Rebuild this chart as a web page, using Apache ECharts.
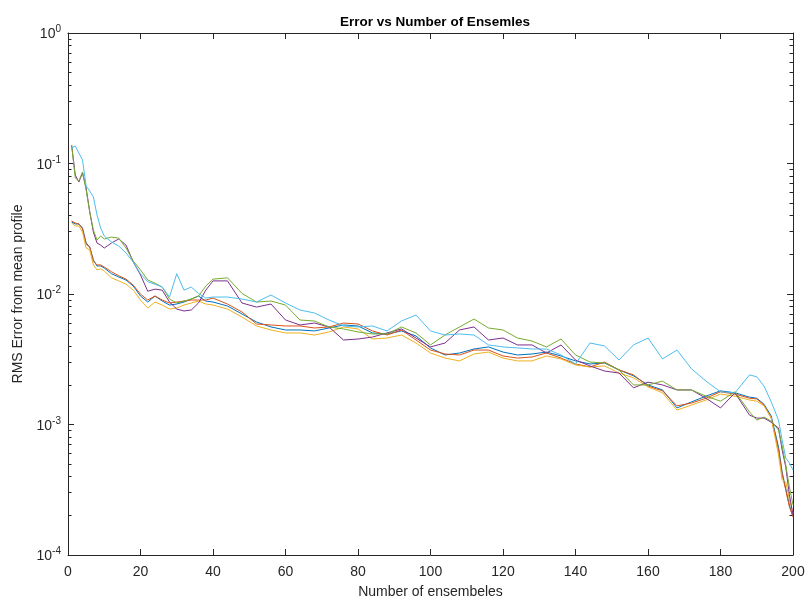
<!DOCTYPE html>
<html>
<head>
<meta charset="utf-8">
<script src="https://cdn.jsdelivr.net/npm/echarts@6/dist/echarts.min.js"></script>
<style>
html,body{margin:0;padding:0;background:#fff;}
#chart{width:809px;height:608px;}
</style>
</head>
<body>
<div id="chart"></div>
<script>
const xValues = [1,2,3,4,5,6,7,8,9,10,12,14,16,18,20,22,24,26,28,30,32,34,36,38,40,44,48,52,56,60,64,68,72,76,80,84,88,92,96,100,104,108,112,116,120,124,128,132,136,140,144,148,152,156,160,164,168,172,176,180,184,188,190,192,194,196,197,198,199,200];

const blueVals = [0.0356,0.0344,0.0344,0.0321,0.0246,0.0229,0.0182,0.0164,0.0164,0.0158,
0.0143,0.0135,0.0128,0.0115,0.00965,0.00868,0.00965,0.00883,0.00823,0.00838,0.00868,0.00915,0.00965,0.00883,0.00868,
0.00809,0.00703,0.00610,0.00559,0.00530,0.00530,0.00521,0.00549,0.00579,0.00569,0.00503,0.00494,0.00521,0.00477,0.00386,0.00341,0.00353,0.00379,0.00393,0.00359,0.00341,0.00347,0.00359,0.00335,0.00307,0.00291,0.00296,0.00262,0.00236,0.00201,0.00184,0.00134,0.00149,0.00165,0.00181,0.00175,0.00162,
0.00159,0.00143,0.00116,0.000673,0.000433,0.000321,0.000242,0.000196];

const orangeVals = [0.0363,0.0350,0.0344,0.0315,0.0241,0.0229,0.0179,0.0167,0.0167,0.0161,
0.0148,0.0138,0.0130,0.0117,0.00997,0.00899,0.00965,0.00899,0.00853,0.00868,0.00883,0.00899,0.00899,0.00899,0.00931,
0.00838,0.00728,0.00589,0.00579,0.00569,0.00569,0.00549,0.00559,0.00599,0.00589,0.00521,0.00485,0.00530,0.00444,0.00372,0.00347,0.00341,0.00372,0.00372,0.00335,0.00323,0.00329,0.00353,0.00323,0.00291,0.00276,0.00301,0.00262,0.00240,0.00197,0.00181,0.00139,0.00146,0.00159,0.00178,0.00171,0.00159,
0.00157,0.00141,0.00112,0.000638,0.000417,0.000315,0.000234,0.000196];

const yellowVals = [0.0350,0.0332,0.0332,0.0298,0.0225,0.0217,0.0167,0.0153,0.0156,0.0150,
0.0133,0.0126,0.0119,0.0107,0.00899,0.00781,0.00868,0.00823,0.00767,0.00781,0.00823,0.00853,0.00883,0.00838,0.00823,
0.00767,0.00666,0.00569,0.00530,0.00503,0.00503,0.00485,0.00512,0.00559,0.00540,0.00452,0.00460,0.00485,0.00421,0.00353,0.00323,0.00307,0.00347,0.00359,0.00323,0.00307,0.00307,0.00335,0.00318,0.00286,0.00276,0.00281,0.00248,0.00228,0.00194,0.00175,0.00129,0.00141,0.00154,0.00171,0.00165,0.00154,
0.00151,0.00139,0.00112,0.000584,0.000376,0.000363,0.000264,0.000210];

const purpleVals = [0.1386,0.0816,0.0721,0.0846,0.0649,0.0425,0.0298,0.0246,0.0237,0.0225,
0.0246,0.0264,0.0237,0.0176,0.0140,0.0105,0.0109,0.0107,0.00868,0.00767,0.00741,0.00754,0.00853,0.0107,0.0126,
0.0126,0.00853,0.00794,0.00838,0.00632,0.00579,0.00599,0.00559,0.00444,0.00452,0.00468,0.00503,0.00540,0.00460,0.00393,0.00421,0.00530,0.00559,0.00444,0.00460,0.00407,0.00407,0.00353,0.00407,0.00312,0.00281,0.00257,0.00248,0.00191,0.00211,0.00201,0.00184,0.00184,0.00159,0.00134,0.00175,0.00118,
0.00112,0.00112,0.00104,0.000940,0.000638,0.000473,0.000289,0.000203];

const greenVals = [0.1386,0.0774,0.0734,0.0861,0.0626,0.0425,0.0309,0.0259,0.0278,0.0264,
0.0273,0.0268,0.0225,0.0179,0.0153,0.0128,0.0121,0.0113,0.00915,0.00853,0.00883,0.00915,0.00965,0.0115,0.0130,
0.0133,0.0101,0.00868,0.00883,0.00823,0.00632,0.00621,0.00559,0.00540,0.00512,0.00494,0.00494,0.00559,0.00503,0.00407,0.00485,0.00559,0.00643,0.00549,0.00530,0.00460,0.00436,0.00393,0.00452,0.00341,0.00301,0.00296,0.00262,0.00201,0.00201,0.00215,0.00184,0.00184,0.00165,0.00151,0.00178,0.00125,
0.00108,0.00114,0.00106,0.000908,0.000685,0.000490,0.000332,0.000242];

const lightBlueVals = [0.1314,0.1362,0.1204,0.1064,0.0672,0.0615,0.0554,0.0403,0.0321,0.0278,
0.0250,0.0233,0.0206,0.0176,0.0143,0.0124,0.0119,0.0113,0.00948,0.0143,0.0107,0.0113,0.0101,0.00931,0.00948,
0.00948,0.00915,0.00868,0.00982,0.00853,0.00754,0.00715,0.00632,0.00569,0.00559,0.00569,0.00521,0.00621,0.00690,0.00521,0.00485,0.00494,0.00485,0.00407,0.00393,0.00386,0.00379,0.00379,0.00341,0.00291,0.00421,0.00400,0.00312,0.00407,0.00460,0.00318,0.00372,0.00267,0.00215,0.00178,0.00175,0.00240,
0.00232,0.00197,0.00149,0.00108,0.000761,0.000554,0.000507,0.000448];

const seriesNames = ['s1','s2','s3','s4','s5','s6'];
const seriesValues = [blueVals, orangeVals, yellowVals, purpleVals, greenVals, lightBlueVals];
const seriesColors = ['#0072BD','#D95319','#EDB120','#7E2F8E','#77AC30','#4DBEEE'];

const yDecadeExponents = [-4,-3,-2,-1,0];
const yMinorMantissas = [2,3,4,5,6,7,8,9];

// minor tick positions on the log axis, expressed as decade exponents (log10 of the value)
const yMinorExps = [];
yDecadeExponents.slice(0, -1).forEach(function (e) {
  yMinorMantissas.forEach(function (m) { yMinorExps.push(Math.log10(m * Math.pow(10, e))); });
});

const axisColor = '#262626';
const fontFam = '"Liberation Sans", Arial, Helvetica, sans-serif';

const chart = echarts.init(document.getElementById('chart'), null, {renderer: 'canvas'});

const mainY = {
  type: 'log', logBase: 10, min: 1e-4, max: 1, interval: 1, position: 'left',
  axisLine: {show: true, lineStyle: {color: axisColor, width: 1}},
  axisTick: {show: true, inside: true, length: 6, lineStyle: {color: axisColor, width: 1}},
  splitLine: {show: false},
  axisLabel: {
    show: true, margin: 7,
    formatter: function (v) {
      const e = Math.round(Math.log10(v));
      return '{b|10}{s|' + e + '}';
    },
    rich: {
      b: {fontSize: 14, color: axisColor, fontFamily: fontFam, lineHeight: 17, verticalAlign: 'bottom'},
      s: {fontSize: 10, color: axisColor, fontFamily: fontFam, lineHeight: 17, verticalAlign: 'top'}
    }
  },
  name: 'RMS Error from mean profile', nameLocation: 'middle', nameGap: 38,
  nameTextStyle: {fontSize: 14, color: axisColor, fontFamily: fontFam}
};

function expAxis(pos, ticks, len, showLine) {
  const ax = {
    type: 'value', min: -4, max: 0, interval: 1, position: pos,
    axisLine: {show: showLine, onZero: false, lineStyle: {color: axisColor, width: 1}},
    axisTick: {show: true, inside: true, length: len, lineStyle: {color: axisColor, width: 1}},
    splitLine: {show: false},
    axisLabel: {show: false}
  };
  if (ticks) ax.axisTick.customValues = ticks;
  return ax;
}

const yAxes = [
  mainY,
  expAxis('left', yMinorExps, 3.5, false),
  expAxis('right', null, 6, true),
  expAxis('right', yMinorExps, 3.5, false)
];

function linAxis(pos, showLabel) {
  return {
    type: 'value', min: 0, max: 200, interval: 20, position: pos,
    axisLine: {show: true, onZero: false, lineStyle: {color: axisColor, width: 1}},
    axisTick: {show: true, inside: true, length: 6, lineStyle: {color: axisColor, width: 1}},
    splitLine: {show: false},
    axisLabel: showLabel ? {show: true, margin: 10, fontSize: 14, color: axisColor, fontFamily: fontFam} : {show: false}
  };
}

const xAxes = [
  Object.assign(linAxis('bottom', true), {
    name: 'Number of ensembeles', nameLocation: 'middle', nameGap: 30,
    nameTextStyle: {fontSize: 14, color: axisColor, fontFamily: fontFam}
  }),
  linAxis('top', false)
];

const series = seriesValues.map(function (vals, i) {
  return {
    name: seriesNames[i], type: 'line', xAxisIndex: 0, yAxisIndex: 0,
    data: xValues.map(function (x, j) { return [x, vals[j]]; }),
    showSymbol: false, symbol: 'none',
    lineStyle: {color: seriesColors[i], width: 1},
    itemStyle: {color: seriesColors[i]},
    silent: true, animation: false
  };
});

chart.setOption({
  animation: false,
  backgroundColor: '#ffffff',
  title: {
    text: 'Error vs Number of Ensemles', left: 430, top: 10, textAlign: 'center',
    textStyle: {fontSize: 13.5, fontWeight: 'bold', color: '#000', fontFamily: fontFam}
  },
  grid: {left: 68, right: 16, top: 33, bottom: 53},
  xAxis: xAxes,
  yAxis: yAxes,
  series: series
});
</script>
</body>
</html>
